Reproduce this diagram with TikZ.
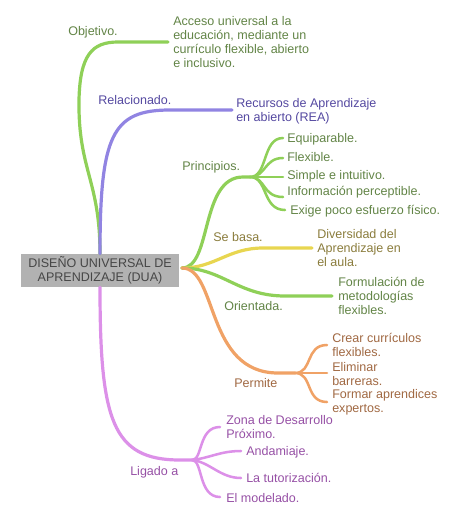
\documentclass[tikz,border=0pt]{standalone}
\usepackage{fontspec}
\setmainfont{Liberation Sans}
\definecolor{gline}{RGB}{143,208,88}
\definecolor{gtext}{RGB}{98,132,70}
\definecolor{pline}{RGB}{145,132,226}
\definecolor{ptext}{RGB}{84,72,160}
\definecolor{yline}{RGB}{232,214,80}
\definecolor{ytext}{RGB}{138,124,60}
\definecolor{oline}{RGB}{240,162,102}
\definecolor{otext}{RGB}{160,104,66}
\definecolor{vline}{RGB}{220,144,232}
\definecolor{vtext}{RGB}{150,80,165}
\definecolor{boxfill}{RGB}{178,178,178}
\definecolor{boxtext}{RGB}{70,70,70}
\begin{document}
\begin{tikzpicture}[x=0.75pt,y=-0.75pt,
  every node/.style={inner sep=0pt,font=\fontsize{9.4}{10.5}\selectfont},
  lbl/.style={anchor=west,align=left,text height=6.9pt,text depth=1.9pt},
  blk/.style={anchor=west,align=left},
  trunk/.style={line width=2.4pt,line cap=round},
  twig/.style={line width=1.9pt,line cap=round},
  centerbox/.style={fill=boxfill,text=boxtext,minimum width=118.5pt,minimum height=24.75pt,align=center}
]
\useasboundingbox (0,0) rectangle (474,522);

% central node
\node[centerbox] (dua) at (100,270.5) {DISEÑO UNIVERSAL DE\\APRENDIZAJE (DUA)};
\coordinate (rt) at (182,268);

% Objetivo
\coordinate (objA) at (118,42);
\coordinate (objB) at (168,42);
\draw[trunk,gline] (dua.north) .. controls (100,180) and (78,170) .. (79,100) .. controls (80,55) and (92,42) .. (objA) -- (objB);
\node[lbl,text=gtext] (obj) at (68,32) {Objetivo.};
\node[blk,text=gtext] (acc) at (173,42) {Acceso universal a la\\educación, mediante un\\currículo flexible, abierto\\e inclusivo.};

% Relacionado
\coordinate (relA) at (170,110);
\coordinate (relB) at (232,110);
\draw[trunk,pline] (dua.north) .. controls (100,135) and (112,110) .. (relA) -- (relB);
\node[lbl,text=ptext] (rel) at (98,101) {Relacionado.};
\node[blk,text=ptext] (rea) at (236,111) {Recursos de Aprendizaje\\en abierto (REA)};

% Principios
\coordinate (prA) at (243,177);
\coordinate (prJ) at (250,177);
\draw[trunk,gline] (rt) .. controls (212,268) and (200,177) .. (prA) -- (prJ);
\node[lbl,text=gtext] (pri) at (182,167) {Principios.};
\coordinate (p1) at (283,138);
\coordinate (p2) at (283,158);
\coordinate (p3) at (283,177);
\coordinate (p4) at (283,197);
\coordinate (p5) at (285,210);
\draw[twig,gline] (prJ) .. controls (268,177) and (262,138) .. (p1);
\draw[twig,gline] (prJ) .. controls (266,177) and (264,158) .. (p2);
\draw[twig,gline] (prJ) -- (p3);
\draw[twig,gline] (prJ) .. controls (266,177) and (262,197) .. (p4);
\draw[twig,gline] (prJ) .. controls (268,177) and (262,210) .. (p5);
\node[lbl,text=gtext] (equ) at (287,139) {Equiparable.};
\node[lbl,text=gtext] (fle) at (287,158) {Flexible.};
\node[lbl,text=gtext] (sim) at (287,176) {Simple e intuitivo.};
\node[lbl,text=gtext] (inf) at (287,192) {Información perceptible.};
\node[lbl,text=gtext] (exi) at (290,211) {Exige poco esfuerzo físico.};

% Se basa
\coordinate (sbA) at (263,248);
\coordinate (sbB) at (312,248);
\draw[trunk,yline] (rt) .. controls (215,268) and (228,248) .. (sbA) -- (sbB);
\node[lbl,text=ytext] (seb) at (213,238) {Se basa.};
\node[blk,text=ytext] (div) at (317,248) {Diversidad del\\Aprendizaje en\\el aula.};

% Orientada
\coordinate (orA) at (285,296);
\coordinate (orB) at (332,296);
\draw[trunk,gline] (rt) .. controls (222,268) and (238,296) .. (orA) -- (orB);
\node[lbl,text=gtext] (ori) at (224,307) {Orientada.};
\node[blk,text=gtext] (for) at (338,296) {Formulación de\\metodologías\\flexibles.};

% Permite
\coordinate (peA) at (278,373);
\coordinate (peJ) at (295,373);
\draw[trunk,oline] (rt) .. controls (218,268) and (205,373) .. (peA) -- (peJ);
\node[lbl,text=otext] (per) at (234,384) {Permite};
\coordinate (e1) at (327,345);
\coordinate (e2) at (327,373);
\coordinate (e3) at (327,402);
\draw[twig,oline] (peJ) .. controls (313,373) and (305,345) .. (e1);
\draw[twig,oline] (peJ) -- (e2);
\draw[twig,oline] (peJ) .. controls (313,373) and (305,402) .. (e3);
\node[blk,text=otext] (cre) at (332,345) {Crear currículos\\flexibles.};
\node[blk,text=otext] (eli) at (332,374) {Eliminar\\barreras.};
\node[blk,text=otext] (fap) at (332,402) {Formar aprendices\\expertos.};

% Ligado a
\coordinate (liA) at (180,460);
\coordinate (liJ) at (192,460);
\draw[trunk,vline] (dua.south) .. controls (100,420) and (112,460) .. (liA) -- (liJ);
\node[lbl,text=vtext] (lig) at (130,472) {Ligado a};
\coordinate (l1) at (220,427);
\coordinate (l2) at (241,451);
\coordinate (l3) at (241,478);
\coordinate (l4) at (220,497);
\draw[twig,vline] (liJ) .. controls (203,460) and (198,427) .. (l1);
\draw[twig,vline] (liJ) .. controls (210,458) and (220,451) .. (l2);
\draw[twig,vline] (liJ) .. controls (210,462) and (220,478) .. (l3);
\draw[twig,vline] (liJ) .. controls (203,460) and (198,497) .. (l4);
\node[blk,text=vtext] (zon) at (226,427) {Zona de Desarrollo\\Próximo.};
\node[lbl,text=vtext] (and) at (246,452) {Andamiaje.};
\node[lbl,text=vtext] (tut) at (246,479) {La tutorización.};
\node[lbl,text=vtext] (mod) at (226,499) {El modelado.};
\end{tikzpicture}
\end{document}
